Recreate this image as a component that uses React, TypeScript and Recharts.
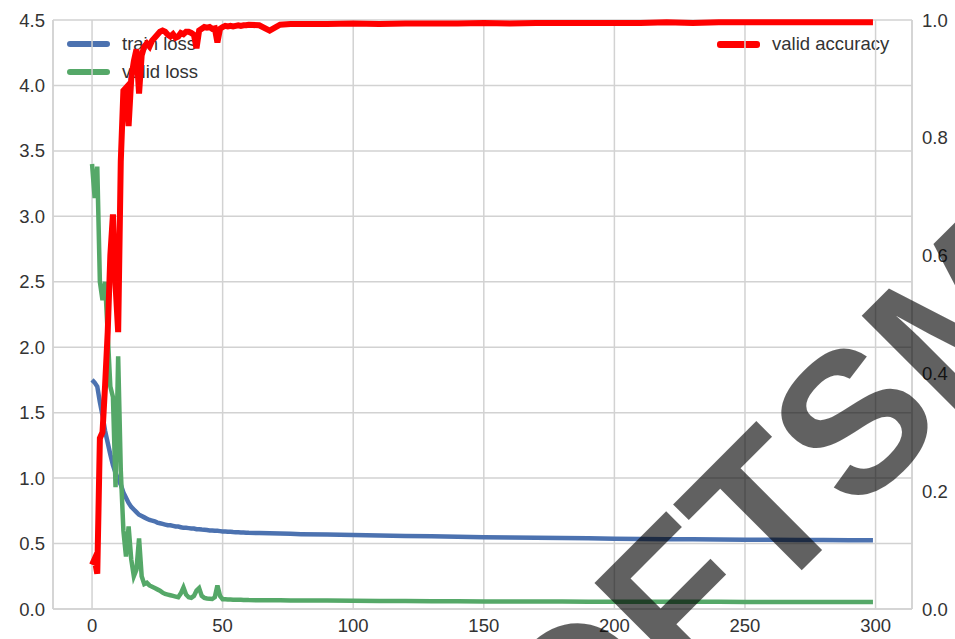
import React from "react";
import { LineChart, Line, XAxis, YAxis, CartesianGrid } from "recharts";

// epochs: every epoch early on, sparser once the curves flatten
const epochs = [
  0, 1, 2, 3, 4, 5, 6, 7, 8, 9, 10,
  11, 12, 13, 14, 15, 16, 17, 18, 19, 20,
  21, 22, 23, 24, 25, 26, 27, 28, 29, 30,
  31, 32, 33, 34, 35, 36, 37, 38, 39, 40,
  41, 42, 43, 44, 45, 46, 47, 48, 49, 50,
  51, 52, 53, 54, 55, 56, 57, 58, 59, 60,
  64, 68, 72, 76, 80, 90, 100, 110, 120, 130, 140, 150, 160, 170, 180, 190,
  200, 210, 220, 230, 240, 250, 260, 270, 280, 290, 299,
];

const trainLoss = [
  1.75, 1.73, 1.7, 1.58, 1.48, 1.36, 1.27, 1.18, 1.1, 1.04, 0.99,
  0.95, 0.89, 0.85, 0.81, 0.78, 0.76, 0.74, 0.72, 0.71, 0.7,
  0.69, 0.68, 0.675, 0.67, 0.66, 0.655, 0.65, 0.645, 0.64, 0.64,
  0.635, 0.63, 0.63, 0.625, 0.62, 0.62, 0.618, 0.615, 0.615, 0.61,
  0.61, 0.607, 0.605, 0.603, 0.6, 0.6, 0.598, 0.597, 0.595, 0.593,
  0.592, 0.59, 0.59, 0.588, 0.587, 0.586, 0.585, 0.584, 0.583, 0.582,
  0.58, 0.578, 0.576, 0.574, 0.572, 0.57, 0.566, 0.562, 0.558, 0.555, 0.552, 0.549, 0.547, 0.545, 0.542, 0.54,
  0.537, 0.535, 0.533, 0.532, 0.531, 0.53, 0.529, 0.528, 0.527, 0.526, 0.525,
];

const validLoss = [
  3.4, 3.14, 3.38, 2.5, 2.36, 2.5, 2.1, 1.7, 1.62, 0.93, 1.93,
  1.06, 0.6, 0.4, 0.63, 0.38, 0.25, 0.3, 0.54, 0.25, 0.19,
  0.2, 0.18, 0.17, 0.16, 0.15, 0.14, 0.125, 0.115, 0.11, 0.105,
  0.1, 0.095, 0.09, 0.12, 0.165, 0.11, 0.09, 0.085, 0.1, 0.14,
  0.16, 0.1, 0.085, 0.08, 0.078, 0.076, 0.09, 0.18, 0.1, 0.075,
  0.074, 0.073, 0.072, 0.071, 0.071, 0.07, 0.07, 0.069, 0.069, 0.068,
  0.067, 0.066, 0.066, 0.065, 0.065, 0.064, 0.063, 0.062, 0.061, 0.06, 0.059, 0.058, 0.058, 0.057, 0.057, 0.056,
  0.056, 0.056, 0.055, 0.055, 0.055, 0.054, 0.054, 0.054, 0.054, 0.053, 0.053,
];

const validAccuracy = [
  0.075, 0.085, 0.06, 0.29, 0.3, 0.38, 0.47, 0.6, 0.67, 0.55, 0.47,
  0.76, 0.88, 0.885, 0.82, 0.9, 0.93, 0.95, 0.875, 0.94, 0.955,
  0.96, 0.955, 0.965, 0.97, 0.975, 0.98, 0.982, 0.98, 0.975, 0.972,
  0.976, 0.97, 0.972, 0.978, 0.976, 0.98, 0.98, 0.978, 0.975, 0.952,
  0.982, 0.985, 0.988, 0.987, 0.988, 0.985, 0.986, 0.962, 0.985, 0.988,
  0.99, 0.989, 0.99, 0.989, 0.99, 0.991, 0.99, 0.991, 0.991, 0.992,
  0.991, 0.982, 0.992, 0.993, 0.993, 0.993, 0.994, 0.993, 0.994, 0.994, 0.994, 0.995, 0.994, 0.995, 0.995, 0.995,
  0.995, 0.995, 0.996, 0.995, 0.996, 0.996, 0.996, 0.996, 0.996, 0.996, 0.996,
];

const xTicks = [0, 50, 100, 150, 200, 250, 300];
const lossTicks = [0, 0.5, 1, 1.5, 2, 2.5, 3, 3.5, 4, 4.5];
const accTicks = [0, 0.2, 0.4, 0.6, 0.8, 1];

const data = epochs.map((epoch, i) => ({
  epoch,
  trainLoss: trainLoss[i],
  validLoss: validLoss[i],
  validAccuracy: validAccuracy[i],
}));

const FONT = '"Liberation Sans", Arial, sans-serif';
const GRID = "#d2d2d2";
const TEXT = "#333333";
const tickStyle = { fill: TEXT, fontSize: 18.5, fontFamily: FONT };

function LegendRow({ color, label, width }: { color: string; label: string; width: number }) {
  return (
    <div style={{ display: "flex", alignItems: "center", height: 28 }}>
      <div style={{ width: 43, height: width, background: color, borderRadius: 3, marginRight: 12 }} />
      <span style={{ fontFamily: FONT, fontSize: 18.5, color: TEXT }}>{label}</span>
    </div>
  );
}

export default function App() {
  return (
    <div style={{ position: "absolute", left: 0, top: 0, width: 955, height: 639, background: "#fff" }}>
      {/* legends sit under the chart svg: the red curve crosses the left one */}
      <div style={{ position: "absolute", left: 67, top: 30, zIndex: 0 }}>
        <LegendRow color="#4C72B0" label="train loss" width={6} />
        <LegendRow color="#55A868" label="valid loss" width={6} />
      </div>
      <div style={{ position: "absolute", left: 717, top: 30, zIndex: 0 }}>
        <LegendRow color="#FF0000" label="valid accuracy" width={7} />
      </div>

      <div style={{ position: "absolute", left: 0, top: 0, zIndex: 1 }}>
        <LineChart width={955} height={639} data={data} margin={{ top: 20, right: 0, bottom: 0, left: 0 }}>
          <CartesianGrid yAxisId="loss" stroke={GRID} strokeWidth={1.5} />
          <XAxis
            dataKey="epoch"
            type="number"
            domain={[-14.95, 313.95]}
            ticks={xTicks}
            allowDataOverflow
            height={30}
            tickSize={0}
            tickMargin={10}
            tickLine={false}
            axisLine={{ stroke: GRID, strokeWidth: 1.5 }}
            tick={tickStyle}
          />
          <YAxis
            yAxisId="loss"
            domain={[0, 4.5]}
            ticks={lossTicks}
            width={53}
            tickSize={0}
            tickMargin={8}
            tickLine={false}
            axisLine={{ stroke: GRID, strokeWidth: 1.5 }}
            tick={tickStyle}
            tickFormatter={(v: number) => v.toFixed(1)}
          />
          <YAxis
            yAxisId="acc"
            orientation="right"
            domain={[0, 1]}
            ticks={accTicks}
            width={43}
            tickSize={0}
            tickMargin={10}
            tickLine={false}
            axisLine={{ stroke: GRID, strokeWidth: 1.5 }}
            tick={tickStyle}
            tickFormatter={(v: number) => v.toFixed(1)}
          />
          <Line yAxisId="loss" dataKey="trainLoss" stroke="#4C72B0" strokeWidth={4.5} dot={false} type="linear" isAnimationActive={false} />
          <Line yAxisId="loss" dataKey="validLoss" stroke="#55A868" strokeWidth={4.5} dot={false} type="linear" isAnimationActive={false} />
          <Line yAxisId="acc" dataKey="validAccuracy" stroke="#FF0000" strokeWidth={6} dot={false} type="linear" isAnimationActive={false} />
        </LineChart>
      </div>

      {/* watermark stamped across the picture */}
      <svg width={955} height={639} style={{ position: "absolute", left: 0, top: 0, zIndex: 2, pointerEvents: "none" }}>
        <text
          x={478}
          y={894}
          transform="rotate(-45 478 894)"
          fontFamily={FONT}
          fontWeight="bold"
          fontSize={200}
          fill="#000"
          fillOpacity={0.62}
        >
          SOFTSM
        </text>
      </svg>
    </div>
  );
}
